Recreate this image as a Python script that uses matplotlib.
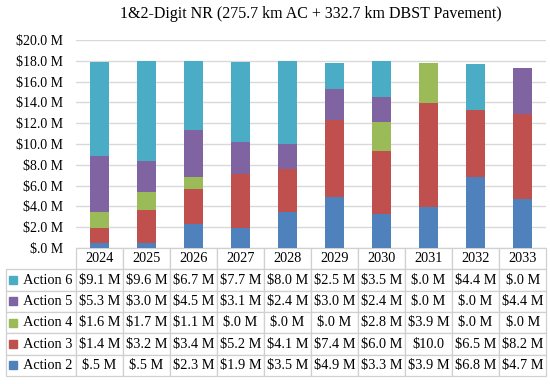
import numpy as np
import matplotlib
matplotlib.use("Agg")
import matplotlib.pyplot as plt
from matplotlib.patches import Rectangle
from matplotlib.transforms import IdentityTransform

plt.rcParams['font.family'] = ['Liberation Serif', 'DejaVu Sans']

years = ['2024', '2025', '2026', '2027', '2028', '2029', '2030', '2031', '2032', '2033']
actions = ['Action 6', 'Action 5', 'Action 4', 'Action 3', 'Action 2']
colors = ['#4BACC6', '#8064A2', '#9BBB59', '#C0504D', '#4F81BD']

# values in $M, same order as actions
action6 = [9.1, 9.6, 6.7, 7.7, 8.0, 2.5, 3.5, 0.0, 4.4, 0.0]
action5 = [5.3, 3.0, 4.5, 3.1, 2.4, 3.0, 2.4, 0.0, 0.0, 4.4]
action4 = [1.6, 1.7, 1.1, 0.0, 0.0, 0.0, 2.8, 3.9, 0.0, 0.0]
action3 = [1.4, 3.2, 3.4, 5.2, 4.1, 7.4, 6.0, 10.0, 6.5, 8.2]
action2 = [0.5, 0.5, 2.3, 1.9, 3.5, 4.9, 3.3, 3.9, 6.8, 4.7]
series = [action6, action5, action4, action3, action2]


def money(v):
    s = '$%.1f M' % v
    return s.replace('$0.', '$.')


fig = plt.figure(figsize=(5.5, 3.84), dpi=100)
ax = fig.add_axes([0.138, 0.354, 0.855, 0.542])

x = np.arange(len(years))
bottom = np.zeros(len(years))
for name, vals, c in zip(actions[::-1], series[::-1], colors[::-1]):
    ax.bar(x, vals, 0.4, bottom=bottom, color=c, label=name, zorder=3)
    bottom += np.array(vals)

ax.set_xlim(-0.5, len(years) - 0.5)
ax.set_ylim(0, 20)
yt = np.arange(0, 21, 2)
ax.set_yticks(yt)
ax.set_yticklabels([money(v) for v in yt], fontsize=10)
ax.set_xticks([])
ax.tick_params(axis='y', length=0, pad=9)
ax.grid(axis='y', color='#D9D9D9', linewidth=1, zorder=0)
for s in ax.spines.values():
    s.set_visible(False)

ax.set_title('1&2-Digit NR (275.7 km AC + 332.7 km DBST Pavement)', fontsize=11.5, pad=16)

# data table
cell_text = []
for name, vals in zip(actions, series):
    label = '   ' + name
    if name == 'Action 3':
        row = [money(v) if v < 10 else '$%.1f' % v for v in vals]
    else:
        row = [money(v) for v in vals]
    cell_text.append([label] + row)

tab = ax.table(cellText=cell_text, colLabels=[''] + years,
               colWidths=[70] + [47] * len(years), cellLoc='center',
               bbox=[-0.149, -0.615, 1.149, 0.615])
tab.auto_set_font_size(False)
tab.set_fontsize(10.3)
for (r, c), cell in tab.get_celld().items():
    cell.set_edgecolor('#D0D0D0')
    cell.set_linewidth(0.9)
    if c == 0:
        cell.get_text().set_ha('left')
tab[(0, 0)].visible_edges = ''

fig.canvas.draw()
renderer = fig.canvas.get_renderer()
for i, c in enumerate(colors):
    bb = tab[(i + 1, 0)].get_window_extent(renderer)
    yc = (bb.y0 + bb.y1) / 2
    fig.add_artist(Rectangle((bb.x0 + 3, yc - 4), 8, 8, color=c,
                             transform=IdentityTransform()))

fig.savefig('out.png', dpi=100)
